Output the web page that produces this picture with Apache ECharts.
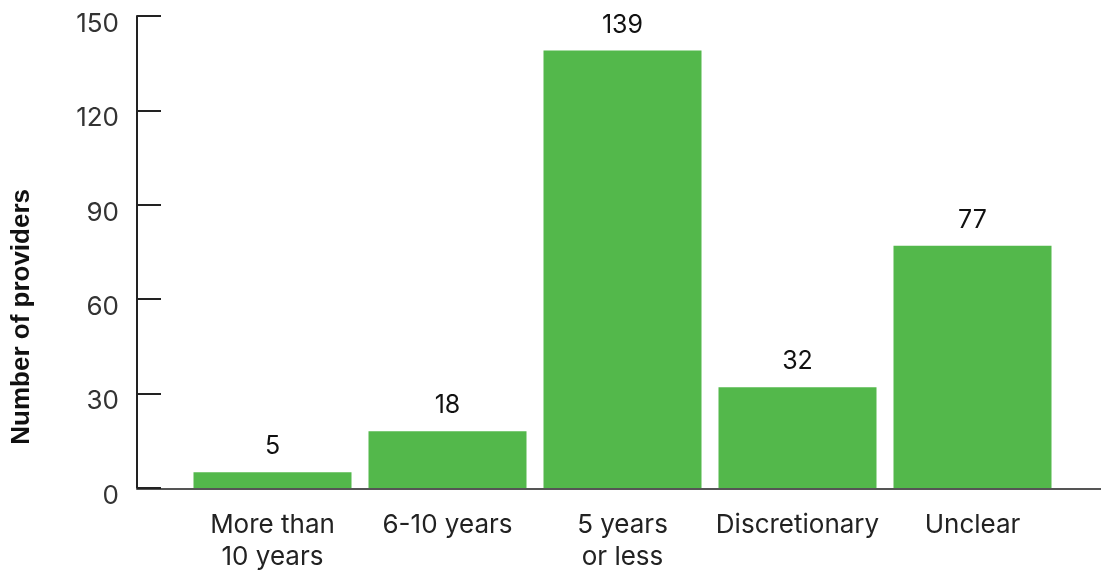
<!DOCTYPE html>
<html>
<head>
<meta charset="utf-8">
<script src="https://cdn.jsdelivr.net/npm/echarts@6/dist/echarts.min.js"></script>
<style>
  html, body { margin: 0; padding: 0; background: #fff; }
  #main { width: 1101px; height: 573px; }
</style>
</head>
<body>
<div id="main"></div>
<script>
var categories = ['More than\n10 years', '6-10 years', '5 years\nor less', 'Discretionary', 'Unclear'];
var providers = [5, 18, 139, 32, 77];
var yTicks = [0, 30, 60, 90, 120, 150];

var chartDom = document.getElementById('main');
var myChart = echarts.init(chartDom);
var option;
option = {
  backgroundColor: '#FFF',
  animation: false,
  textStyle: { fontFamily: 'Inter' },
  grid: [
    { left: 185, right: 41, top: 16, bottom: 84 },
    { left: 137, right: 0, top: 16, bottom: 84 }
  ],
  graphic: [
    {
      type: 'text',
      left: 9,
      top: 189,
      rotation: Math.PI / 2,
      style: {
        text: 'Number of providers',
        font: 'bold 26px "Liberation Sans", Arial, sans-serif',
        fill: '#111'
      }
    }
  ],
  xAxis: [
    {
      type: 'category',
      gridIndex: 0,
      data: categories,
      axisLine: { show: false },
      axisTick: { show: false },
      axisLabel: {
        interval: 0,
        margin: 21,
        fontSize: 26,
        lineHeight: 32,
        color: '#222',
        fontFamily: 'Inter'
      }
    },
    {
      type: 'value',
      gridIndex: 1,
      min: 0,
      max: 1,
      axisLine: { show: true, lineStyle: { color: '#555', width: 2 } },
      axisTick: { show: false },
      axisLabel: { show: false },
      splitLine: { show: false }
    }
  ],
  yAxis: [
    {
      type: 'value',
      gridIndex: 0,
      min: yTicks[0],
      max: yTicks[yTicks.length - 1],
      interval: 30,
      offset: 48,
      axisLine: { show: true, lineStyle: { color: '#222', width: 2 } },
      axisTick: { show: true, inside: true, length: 24, lineStyle: { color: '#222', width: 2 } },
      axisLabel: {
        margin: 18,
        fontSize: 26,
        color: '#333',
        fontFamily: 'Inter',
        verticalAlign: 'top',
        lineHeight: 16
      },
      splitLine: { show: false }
    },
    {
      type: 'value',
      gridIndex: 1,
      show: false
    }
  ],
  series: [
    {
      type: 'bar',
      xAxisIndex: 0,
      yAxisIndex: 0,
      data: providers,
      barWidth: 158,
      itemStyle: { color: '#53b84b' },
      label: {
        show: true,
        position: 'top',
        distance: 13,
        fontSize: 25,
        color: '#111',
        fontFamily: 'Inter'
      }
    }
  ]
};
option && myChart.setOption(option);
</script>
</body>
</html>
